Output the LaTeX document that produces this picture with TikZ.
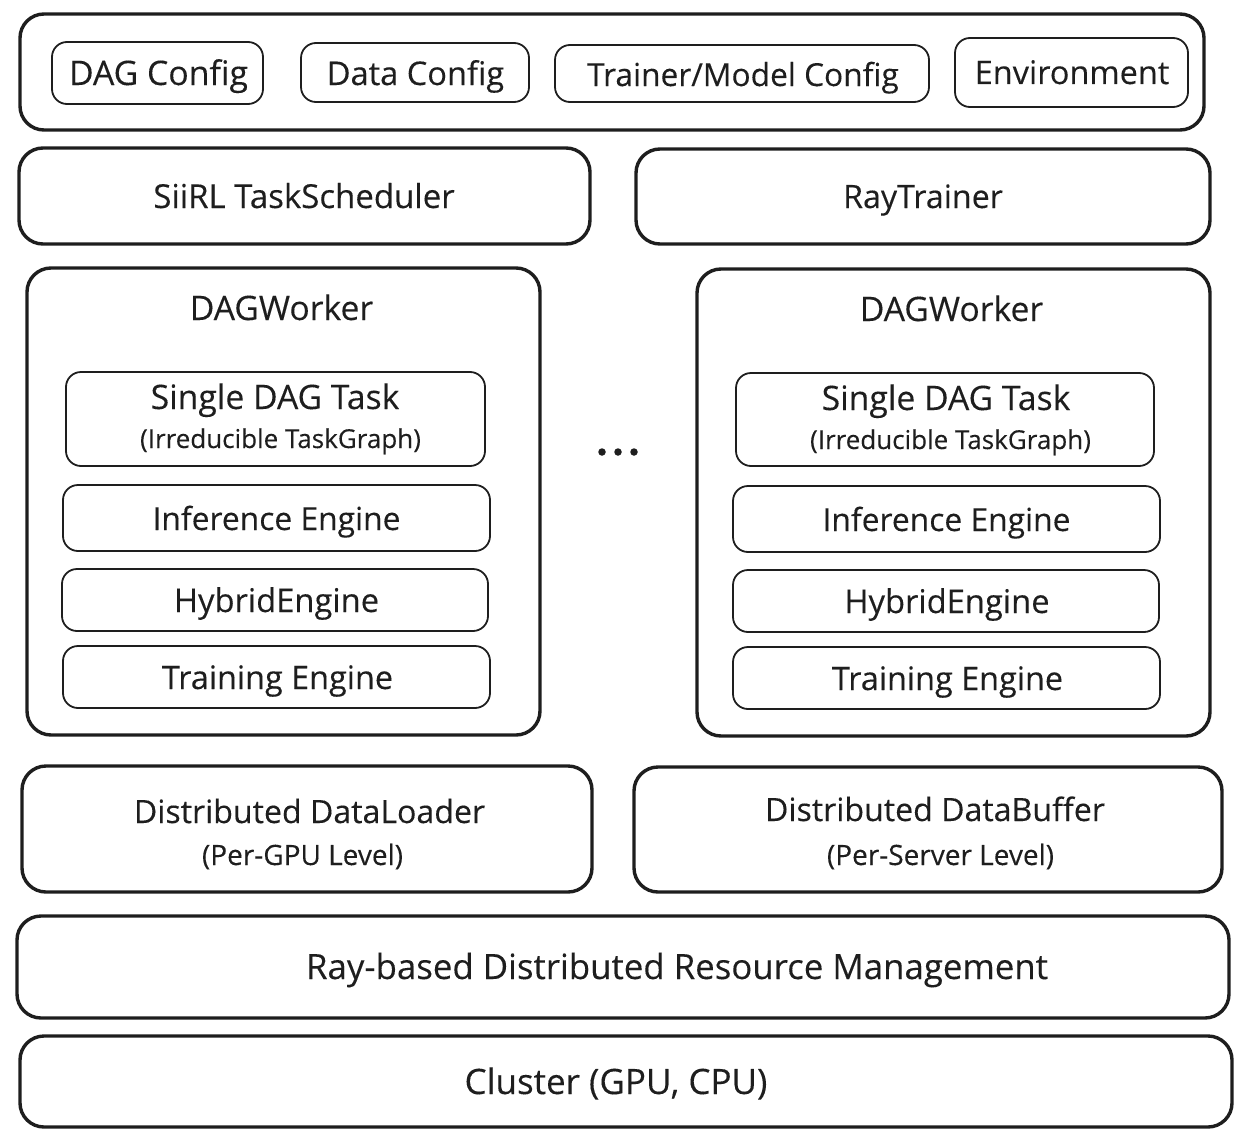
\documentclass[tikz,border=0pt]{standalone}
\usepackage{fontspec}
\setmainfont{Open Sans}
\newfontfamily\labelfont{Open Sans}[FakeBold=0.2]
\definecolor{ink}{HTML}{1E1E1E}
\tikzset{
  outerbox/.style={draw=ink, line width=3.4pt, rounded corners=24pt, inner sep=0pt},
  innerbox/.style={draw=ink, line width=1.8pt, rounded corners=15pt, inner sep=0pt},
  txt/.style={text=ink, anchor=base, inner sep=0pt, font=\labelfont\fontsize{#1}{#1}\selectfont},
  txt/.default=33,
  dotmark/.style={fill=ink, circle, inner sep=0pt, minimum size=7.5pt}
}
\newcommand{\boxat}[6]{% style, name, x1, y1, x2, y2
  \path (#3,#4) coordinate (#2-nw) (#5,#6) coordinate (#2-se);
  \draw[#1] (#2-nw) rectangle (#2-se);
}
\begin{document}
\begin{tikzpicture}[x=1pt,y=-1pt]
\useasboundingbox (0,0) rectangle (1242,1140);
% top config bar
\boxat{outerbox}{cfg}{20}{14}{1204}{130}
\boxat{innerbox}{dagc}{52}{42}{263}{104}
\boxat{innerbox}{datac}{301}{43}{529}{102}
\boxat{innerbox}{trc}{555}{45}{929}{102}
\boxat{innerbox}{envc}{955}{38}{1188}{107}
\node[txt=33.8] (tdagc) at (158.5,85) {DAG Config};
\node[txt=32.6] (tdatac) at (415.5,85) {Data Config};
\node[txt=31.7] (ttrc) at (743,86) {Trainer/Model Config};
\node[txt=32.5] (tenvc) at (1072,84) {Environment};
% scheduler / trainer
\boxat{outerbox}{sch}{19}{148}{590}{244}
\boxat{outerbox}{ray}{636}{149}{1210}{244}
\node[txt=33] (tsch) at (304,208) {SiiRL TaskScheduler};
\node[txt=32.2] (tray) at (923,208) {RayTrainer};
% DAG workers
\boxat{outerbox}{wl}{27}{268}{540}{735}
\boxat{outerbox}{wr}{697}{269}{1210}{736}
\node[txt=33.7] (twl) at (281.5,320) {DAGWorker};
\node[txt=33.7] (twr) at (951.5,321) {DAGWorker};
% left worker contents
\boxat{innerbox}{sl}{66}{372}{485}{466}
\boxat{innerbox}{il}{63}{485}{490}{551}
\boxat{innerbox}{hl}{62}{569}{488}{631}
\boxat{innerbox}{gl}{63}{646}{490}{708}
\node[txt=33.7] (tsl) at (275,409) {Single DAG Task};
\node[txt=26] (tsl2) at (280.5,448) {(Irreducible TaskGraph)};
\node[txt=31.8] (til) at (276.5,530) {Inference Engine};
\node[txt=32.7] (thl) at (276.5,612) {HybridEngine};
\node[txt=32.4] (tgl) at (277.5,689) {Training Engine};
% right worker contents
\boxat{innerbox}{sr}{736}{373}{1154}{466}
\boxat{innerbox}{ir}{733}{486}{1160}{552}
\boxat{innerbox}{hr}{733}{570}{1159}{632}
\boxat{innerbox}{gr}{733}{647}{1160}{709}
\node[txt=33.7] (tsr) at (946,410) {Single DAG Task};
\node[txt=26] (tsr2) at (950.5,449) {(Irreducible TaskGraph)};
\node[txt=31.8] (tir) at (946.5,531) {Inference Engine};
\node[txt=32.7] (thr) at (947,613) {HybridEngine};
\node[txt=32.4] (tgr) at (947.5,690) {Training Engine};
% ellipsis
\node[dotmark] (d1) at (602,452) {};
\node[dotmark] (d2) at (618,452) {};
\node[dotmark] (d3) at (634,452) {};
% data
\boxat{outerbox}{dl}{22}{766}{592}{892}
\boxat{outerbox}{db}{634}{767}{1222}{892}
\node[txt=32.1] (tdl) at (309.5,823) {Distributed DataLoader};
\node[txt=28] (tdl2) at (302.5,865) {(Per-GPU Level)};
\node[txt=32.1] (tdb) at (935,821) {Distributed DataBuffer};
\node[txt=28] (tdb2) at (940.5,865) {(Per-Server Level)};
% resource management
\boxat{outerbox}{rm}{17}{916}{1229}{1018}
\node[txt=34.8] (trm) at (677,979) {Ray-based Distributed Resource Management};
% cluster
\boxat{outerbox}{cl}{20}{1036}{1232}{1127}
\node[txt=35] (tcl) at (616,1094) {Cluster (GPU, CPU)};
\end{tikzpicture}
\end{document}
